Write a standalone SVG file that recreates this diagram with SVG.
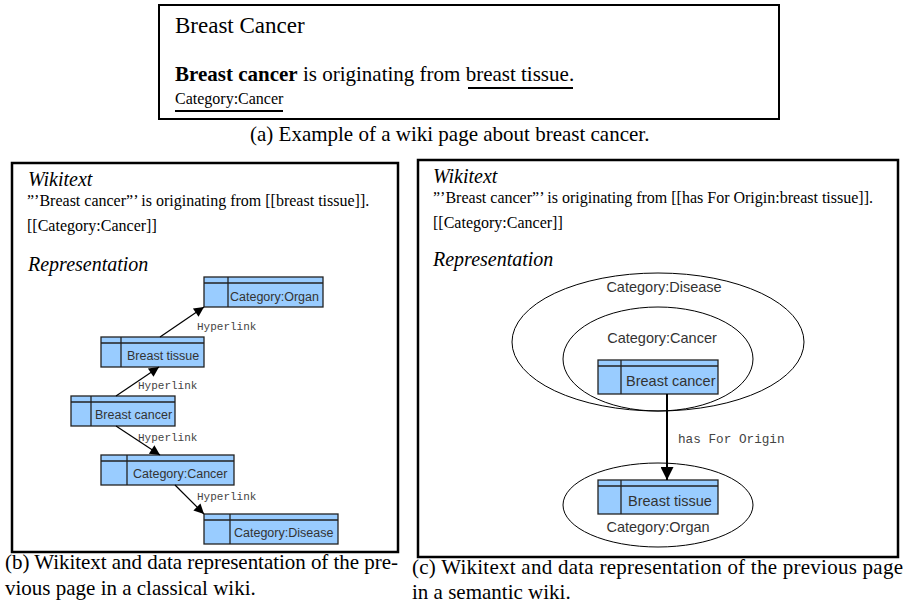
<svg xmlns="http://www.w3.org/2000/svg" width="905" height="605" viewBox="0 0 905 605">
<style>
.tm{font-family:"Liberation Serif","Times New Roman",serif;fill:#000}
.it{font-style:italic}
.cap{font-size:21px}
.wt{font-size:16px}
.hd{font-size:20px}
.frame{fill:none;stroke:#000;stroke-width:2.5}
.cls{fill:#99ccff;stroke:#222;stroke-width:1.3}
.ln{stroke:#222;stroke-width:1.3;fill:none}
.nl{font-family:"Liberation Sans",Arial,sans-serif;fill:#333}
.nb{font-size:12.5px}
.nc{font-size:14.5px}
.el{fill:none;stroke:#000;stroke-width:1}
.mono{font-family:"Liberation Mono","Courier New",monospace;fill:#444}
.edge{stroke:#000;stroke-width:1.2;fill:none}
.edge2{stroke:#000;stroke-width:2;fill:none}
</style>
<defs>
<marker id="ah" viewBox="0 0 10 10" refX="10" refY="5" markerWidth="14" markerHeight="10" markerUnits="userSpaceOnUse" orient="auto"><path d="M0,0 L10,5 L0,10 z" fill="#000"/></marker>
<marker id="ah2" viewBox="0 0 10 10" refX="10" refY="5" markerWidth="18" markerHeight="13" markerUnits="userSpaceOnUse" orient="auto"><path d="M0,0 L10,5 L0,10 z" fill="#000"/></marker>
</defs>

<!-- (a) wiki page -->
<g id="page-a">
<rect x="159" y="5" width="620" height="114" fill="#fff" stroke="#000" stroke-width="2"/>
<text class="tm" x="175" y="33" font-size="23">Breast Cancer</text>
<text class="tm" x="175" y="81" font-size="21"><tspan font-weight="bold">Breast cancer</tspan> is originating from <tspan>breast tissue</tspan>.</text>
<line x1="468" y1="88" x2="573" y2="88" stroke="#000" stroke-width="2"/>
<text class="tm" x="175" y="104" font-size="16">Category:Cancer</text>
<line x1="175" y1="111" x2="283" y2="111" stroke="#000" stroke-width="2"/>
</g>
<text class="tm cap" x="250" y="141">(a)  Example of a wiki page about breast cancer.</text>

<!-- (b) classical wiki -->
<g id="panel-b">
<rect class="frame" x="12" y="163" width="386" height="389"/>
<text class="tm it hd" x="28" y="186">Wikitext</text>
<text class="tm wt" x="27" y="206">”’Breast cancer”’ is originating from [[breast tissue]].</text>
<text class="tm wt" x="27" y="231">[[Category:Cancer]]</text>
<text class="tm it hd" x="28" y="271">Representation</text>
</g>

<g id="b-organ">
<rect class="cls" x="204" y="277" width="119" height="30"/>
<line class="ln" x1="204" y1="283" x2="323" y2="283"/>
<line class="ln" x1="228" y1="277" x2="228" y2="307"/>
<text class="nl nb" x="230" y="301">Category:Organ</text>
</g>
<g id="b-tissue">
<rect class="cls" x="101" y="337" width="103" height="30"/>
<line class="ln" x1="101" y1="343" x2="204" y2="343"/>
<line class="ln" x1="121" y1="337" x2="121" y2="367"/>
<text class="nl nb" x="127" y="360">Breast tissue</text>
</g>
<g id="b-cancer">
<rect class="cls" x="71" y="396" width="104" height="30"/>
<line class="ln" x1="71" y1="402" x2="175" y2="402"/>
<line class="ln" x1="91" y1="396" x2="91" y2="426"/>
<text class="nl nb" x="95" y="419">Breast cancer</text>
</g>
<g id="b-catcancer">
<rect class="cls" x="101" y="455" width="133" height="30"/>
<line class="ln" x1="101" y1="461" x2="234" y2="461"/>
<line class="ln" x1="127" y1="455" x2="127" y2="485"/>
<text class="nl nb" x="133" y="478">Category:Cancer</text>
</g>
<g id="b-disease">
<rect class="cls" x="204" y="514" width="134" height="30"/>
<line class="ln" x1="204" y1="520" x2="338" y2="520"/>
<line class="ln" x1="230" y1="514" x2="230" y2="544"/>
<text class="nl nb" x="234" y="537">Category:Disease</text>
</g>

<g id="b-edges">
<line class="edge" x1="160" y1="337" x2="204" y2="307" marker-end="url(#ah)"/>
<line class="edge" x1="116" y1="396" x2="159" y2="367" marker-end="url(#ah)"/>
<line class="edge" x1="116" y1="426" x2="160" y2="455" marker-end="url(#ah)"/>
<line class="edge" x1="175" y1="485" x2="204" y2="514" marker-end="url(#ah)"/>
<text class="mono" x="197" y="330" font-size="11">Hyperlink</text>
<text class="mono" x="138" y="389" font-size="11">Hyperlink</text>
<text class="mono" x="138" y="441" font-size="11">Hyperlink</text>
<text class="mono" x="197" y="500" font-size="11">Hyperlink</text>
</g>

<text class="tm cap" x="5" y="569" textLength="393" lengthAdjust="spacing">(b)  Wikitext and data representation of the pre-</text>
<text class="tm cap" x="5" y="595">vious page in a classical wiki.</text>

<!-- (c) semantic wiki -->
<g id="panel-c">
<rect class="frame" x="418" y="160" width="480" height="397"/>
<text class="tm it hd" x="433" y="183">Wikitext</text>
<text class="tm wt" x="433" y="203">”’Breast cancer”’ is originating from [[has For Origin:breast tissue]].</text>
<text class="tm wt" x="433" y="228">[[Category:Cancer]]</text>
<text class="tm it hd" x="433" y="266">Representation</text>
</g>

<g id="c-disease">
<ellipse class="el" cx="658" cy="342" rx="146" ry="69"/>
<text class="nl nc" x="664" y="292" text-anchor="middle">Category:Disease</text>
</g>
<g id="c-cancer">
<ellipse class="el" cx="658" cy="359" rx="95" ry="52"/>
<text class="nl nc" x="662" y="343" text-anchor="middle">Category:Cancer</text>
</g>
<g id="c-organ">
<ellipse class="el" cx="658" cy="505" rx="95" ry="42"/>
<text class="nl nc" x="658" y="532" text-anchor="middle">Category:Organ</text>
</g>
<g id="c-breastcancer">
<rect class="cls" x="598" y="360" width="120" height="34"/>
<line class="ln" x1="598" y1="366" x2="718" y2="366"/>
<line class="ln" x1="621" y1="360" x2="621" y2="394"/>
<text class="nl nc" x="626" y="386">Breast cancer</text>
</g>
<g id="c-breasttissue">
<rect class="cls" x="598" y="480" width="120" height="34"/>
<line class="ln" x1="598" y1="486" x2="718" y2="486"/>
<line class="ln" x1="621" y1="480" x2="621" y2="514"/>
<text class="nl nc" x="628" y="506">Breast tissue</text>
</g>
<g id="c-edges">
<line class="edge2" x1="667" y1="394" x2="667" y2="480" marker-end="url(#ah2)"/>
<text class="mono" x="678" y="443" font-size="12.7">has For Origin</text>
</g>

<text class="tm cap" x="412" y="574" textLength="491" lengthAdjust="spacing">(c)  Wikitext and data representation of the previous page</text>
<text class="tm cap" x="412" y="599">in a semantic wiki.</text>
</svg>
